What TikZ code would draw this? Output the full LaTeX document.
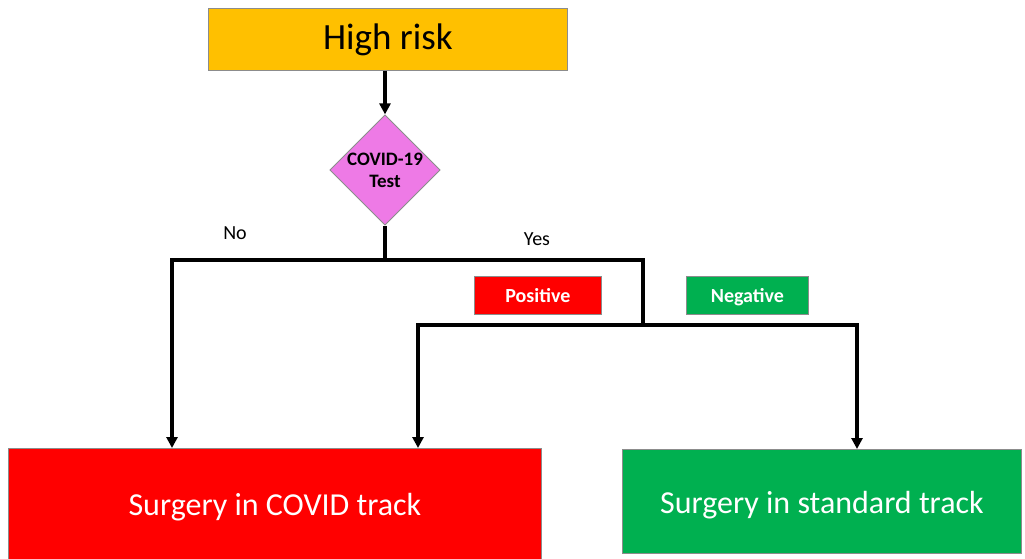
\documentclass[tikz,border=0pt]{standalone}
\usepackage{fontspec}
\setmainfont{Carlito}
\usetikzlibrary{shapes.geometric,arrows.meta}
\definecolor{riskamber}{HTML}{FFC000}
\definecolor{covidred}{HTML}{FF0000}
\definecolor{stdgreen}{HTML}{00B050}
\definecolor{testviolet}{HTML}{EE7AE6}
\definecolor{rimgray}{HTML}{8C8C8C}
\begin{document}
\begin{tikzpicture}[x=1pt,y=-1pt,
  box/.style={draw=rimgray,line width=0.8pt,rectangle,inner sep=0pt,anchor=north west},
  tag/.style={box,text=white,font=\fontsize{20}{22}\selectfont\bfseries,text depth=0pt},
  big/.style={box,text=white,font=\fontsize{32}{36}\selectfont,text height=24pt,text depth=5pt},
  flow/.style={line width=3.2pt,black},
  flowarrow/.style={flow,-{Triangle[length=11pt,width=11pt]}}]
\useasboundingbox (0,0) rectangle (1025,559);
% boxes
\node[box,fill=riskamber,minimum width=359pt,minimum height=62pt,
  font=\fontsize{37}{40}\selectfont] (risk) at (208,8) {High risk};
\node[diamond,draw=rimgray,line width=0.8pt,fill=testviolet,minimum width=110pt,minimum height=106pt,inner sep=0pt,
  align=center,font=\fontsize{19}{22}\selectfont\bfseries] (test) at (385,170) {COVID-19\\Test};
\node[tag,fill=covidred,minimum width=127pt,minimum height=38pt] (pos) at (474,276) {Positive};
\node[tag,fill=stdgreen,minimum width=122pt,minimum height=38pt] (neg) at (686,276) {Negative};
\node[big,fill=covidred,minimum width=533pt,minimum height=115pt] (covid) at (8,448) {Surgery in COVID track};
\node[big,fill=stdgreen,minimum width=399pt,minimum height=104pt,text height=27pt,text depth=2pt] (std) at (622,449) {Surgery in standard track};
% labels
\node[font=\fontsize{20}{22}\selectfont] (no) at (235,233) {No};
\node[font=\fontsize{20}{22}\selectfont] (yes) at (537,239) {Yes};
% junction points
\coordinate (split) at (385,260);
\coordinate (nol) at (172,260);
\coordinate (yesr) at (643,260);
\coordinate (yesd) at (643,325);
\coordinate (posl) at (418,325);
\coordinate (negr) at (857,325);
% connectors
\draw[flowarrow] (test.north |- risk.south) -- (test.north);
\draw[flow] (test.south) -- (split);
\draw[flowarrow] (split) -- (nol) -- (nol |- covid.north);
\draw[flow] (split) -- (yesr) -- (yesd);
\draw[flowarrow] (yesd) -- (posl) -- (posl |- covid.north);
\draw[flowarrow] (yesd) -- (negr) -- (negr |- std.north);
\end{tikzpicture}
\end{document}
